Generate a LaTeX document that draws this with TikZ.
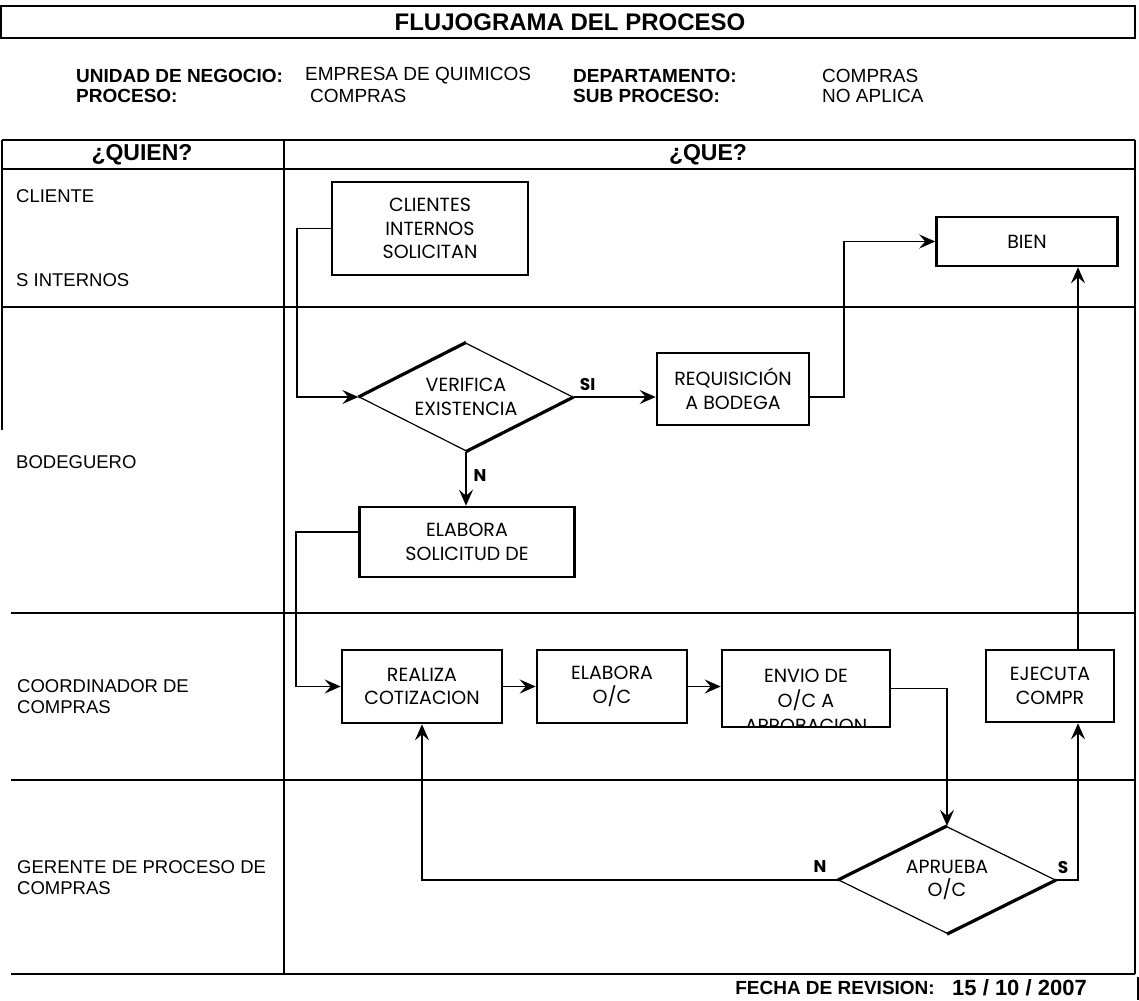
\documentclass[tikz,border=0pt]{standalone}
\usepackage{fontspec}
\setmainfont{Liberation Sans}
\newfontfamily\gotica{Poppins}
\usetikzlibrary{shapes,arrows.meta,positioning,calc}
\tikzstyle{proceso} = [rectangle, draw, line width=2.6pt, font=\gotica\fontsize{19}{23.5}\selectfont, align=center, inner sep=0pt]
\tikzstyle{decision} = [diamond, aspect=2, draw, line width=1.2pt, font=\gotica\fontsize{19}{23.5}\selectfont, align=center, inner sep=0pt]
\tikzstyle{carril} = [anchor=west, align=left, inner sep=0pt, font=\fontsize{18.5}{21}\selectfont]
\tikzstyle{dato} = [anchor=west, inner sep=0pt, font=\fontsize{19}{22}\selectfont]
\tikzstyle{datob} = [anchor=west, inner sep=0pt, font=\bfseries\fontsize{19}{22}\selectfont]
\tikzstyle{etiq} = [inner sep=0pt, font=\gotica\bfseries\fontsize{17}{20}\selectfont]
\tikzstyle{flecha} = [line width=1.7pt, -{Stealth[length=16pt,width=14pt,inset=6pt]}]
\tikzstyle{tabla} = [line width=1.1pt]

\begin{document}
\begin{tikzpicture}[x=1pt, y=-1pt]
    \useasboundingbox (0,0) rectangle (1139,1000);

    % encabezado
    \draw[tabla] (1,6) rectangle (1135,38);
    \node[font=\bfseries\fontsize{24}{28}\selectfont] (titulo) at (570,22) {FLUJOGRAMA DEL PROCESO};
    \node[datob] (unidad) at (76,76) {UNIDAD DE NEGOCIO:};
    \node[datob] (proc) at (76,96) {PROCESO:};
    \node[dato] (empresa) at (305,76) {EMPRESA DE QUIMICOS};
    \node[dato] (comprasA) at (310,96) {COMPRAS};
    \node[datob] (depto) at (573,76) {DEPARTAMENTO:};
    \node[datob] (subproc) at (573,96) {SUB PROCESO:};
    \node[dato] (comprasB) at (822,76) {COMPRAS};
    \node[dato] (noaplica) at (822,96) {NO APLICA};

    % tabla de carriles
    \draw[tabla] (2,140) -- (1135,140);
    \draw[tabla] (2,169) -- (1135,169);
    \draw[tabla] (2,307) -- (1135,307);
    \foreach \y in {613,780,974}
        \draw[tabla] (11,\y) -- (1135,\y);
    \draw[tabla] (284,140) -- (284,974);
    \draw[tabla] (1135,140) -- (1135,974);
    \draw[tabla] (2,140) -- (2,430);
    \draw[tabla] (1138,977) -- (1138,1000);
    \node[font=\bfseries\fontsize{23}{26}\selectfont] (quien) at (142,155) {¿QUIEN?};
    \node[font=\bfseries\fontsize{23}{26}\selectfont] (que) at (708,155) {¿QUE?};

    \node[carril] (cli1) at (16,196) {CLIENTE};
    \node[carril] (cli2) at (16,280) {S INTERNOS};
    \node[carril] (bodega) at (16,462) {BODEGUERO};
    \node[carril] (coord) at (17,697) {COORDINADOR DE\\COMPRAS};
    \node[carril] (gerente) at (17,878) {GERENTE DE PROCESO DE\\COMPRAS};

    % flujo
    \node[proceso, minimum width=196, minimum height=93] (clientes) at (430,228.5) {CLIENTES\\INTERNOS\\SOLICITAN};
    \node[decision, minimum width=214, minimum height=108] (verifica) at (466,397) {VERIFICA\\EXISTENCIA};
    \node[proceso, minimum width=152, minimum height=72] (requi) at (733,389) {REQUISICIÓN\\A BODEGA};
    \node[proceso, minimum width=181, minimum height=49] (bien) at (1027,241.5) {BIEN};
    \node[proceso, minimum width=215, minimum height=70] (solicitud) at (467,542) {ELABORA\\SOLICITUD DE};
    \node[proceso, minimum width=160, minimum height=73] (cotiza) at (422,686.5) {REALIZA\\COTIZACION};
    \node[proceso, minimum width=150, minimum height=73] (orden) at (612,686.5) {ELABORA\\O/C};
    \node[proceso, minimum width=168, minimum height=77] (envio) at (806,688.5) {};
    \begin{scope}
        \clip ($(envio.south west)+(3pt,3pt)$) rectangle ($(envio.north east)+(-3pt,-3pt)$);
        \node[font=\gotica\fontsize{19}{25}\selectfont, align=center, inner sep=0pt, anchor=north] (envtexto) at ($(envio.north)+(0,20)$) {ENVIO DE\\O/C A\\APROBACION};
    \end{scope}
    \node[proceso, minimum width=128, minimum height=72] (ejecuta) at (1050,686) {EJECUTA\\COMPR};
    \node[decision, minimum width=217, minimum height=107] (aprueba) at (947,880) {APRUEBA\\O/C};
    \draw[line width=3.2pt] (verifica.west) -- (verifica.north) (verifica.south) -- (verifica.east);
    \draw[line width=3.2pt] (aprueba.west) -- (aprueba.north) (aprueba.south) -- (aprueba.east);

    \coordinate (subida) at ($(ejecuta.north)+(28,0)$);
    \coordinate (bajada) at ($(ejecuta.south)+(28,0)$);

    \draw[flecha] (clientes.west) -- ++(-34,0) |- (verifica.west);
    \draw[flecha] (verifica.east) -- (verifica.east -| requi.west);
    \node[etiq] (si) at ($(verifica.east)+(14,-12)$) {SI};
    \draw[flecha] (requi.east |- verifica.east) -- ++(34,0) |- (bien.west);
    \draw[flecha] (verifica.south) -- (verifica.south |- solicitud.north);
    \node[etiq] (no1) at ($(verifica.south)+(14,24)$) {N};
    \draw[flecha] ($(solicitud.west)+(0,-10)$) -- ++(-62,0) |- (cotiza.west);
    \draw[flecha] (cotiza.east) -- (orden.west);
    \draw[flecha] (orden.east) -- (orden.east -| envio.west);
    \draw[flecha] (envio.east) -| (aprueba.north);
    \draw[flecha] (aprueba.east) -| (bajada);
    \node[etiq] (si2) at ($(aprueba.east)+(7,-13)$) {S};
    \draw[flecha] (aprueba.west) -| (cotiza.south);
    \node[etiq] (no2) at ($(aprueba.west)+(-18,-13)$) {N};
    \draw[flecha] (subida) -- (subida |- bien.south);

    % pie
    \node[anchor=east, inner sep=0pt, font=\bfseries\fontsize{19}{22}\selectfont] (fecha) at (935,988) {FECHA DE REVISION:};
    \node[anchor=west, inner sep=0pt, font=\bfseries\fontsize{22}{25}\selectfont] (fechaval) at (952,988) {15 / 10 / 2007};
\end{tikzpicture}
\end{document}
